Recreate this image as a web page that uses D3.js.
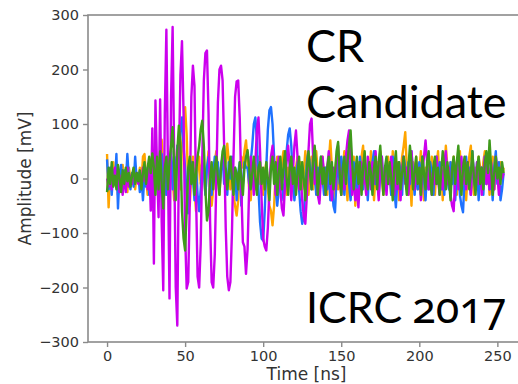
<!DOCTYPE html>
<html><head><meta charset="utf-8">
<script src="https://cdn.jsdelivr.net/npm/d3@7"></script>
<style>
html,body{margin:0;padding:0;background:#fff;}
svg{display:block;}
</style></head>
<body>
<script>
// Time axis: samples every 1 ns starting at 0
const t0 = 0, dt = 1;
const xTicks = [0, 50, 100, 150, 200, 250];
const yTicks = [-300, -200, -100, 0, 100, 200, 300];

const orange = [
45,-53,10,-20,30,-10,20,-30,15,-5,
25,-15,10,-25,20,0,-10,15,-20,10,
-5,20,-10,40,45,0,-30,20,-10,30,
-20,40,10,-30,50,71,20,-30,30,10,
-20,40,0,-40,20,60,30,-20,60,100,
131,80,-20,-50,10,40,-20,-60,20,40,
-10,30,10,-30,20,50,0,-50,-20,30,
50,10,-30,20,40,10,30,64,30,-20,
0,-30,-50,-68,-40,10,40,20,50,70,
30,-20,-40,10,30,-20,20,40,-10,20,
-30,10,30,-20,-50,-60,-86,-50,10,40,
20,-20,30,50,10,-30,20,-10,40,0,
-30,20,40,-10,30,-20,10,50,20,-30,
10,40,-20,30,50,10,-40,20,40,-10,
20,-30,30,70,20,-40,10,40,-20,10,
-30,20,50,0,-40,30,10,-20,40,-50,
10,30,-20,40,60,0,-30,20,-10,50,
20,-40,10,30,-20,50,0,-30,20,-10,
40,10,-30,50,20,-20,30,-40,10,40,
60,85,20,-30,10,-50,30,0,40,-20,
10,50,-10,-40,20,0,30,-20,40,10,
-30,20,50,-10,30,-40,10,60,20,-20,
30,-10,40,0,-30,20,50,-20,10,30,
-40,10,40,60,0,-30,20,-10,40,20,
-20,30,50,-10,20,-30,10,40,-20,30,
10,-20,30,0,20];

const blue = [
35,-20,20,-30,15,-10,45,-55,10,25,
-20,15,-10,45,0,-20,10,-15,40,-5,
10,-25,5,-40,10,-15,20,-30,30,0,
40,-20,30,-40,20,45,-10,30,-30,20,
0,50,-20,40,-10,60,20,90,112,60,
20,-30,-64,-20,30,0,-40,20,-30,-60,
-20,30,10,-30,20,40,0,-30,10,40,
-10,30,-20,20,40,-10,10,-30,30,0,
40,-20,20,-40,10,30,-50,-10,30,20,
20,-10,30,60,100,112,70,-20,-80,-110,
-114,-60,20,90,125,131,100,40,-20,-50,
-20,30,-10,-40,10,50,80,92,60,0,
-40,-10,30,-20,-60,-83,-70,-20,30,50,
20,-20,40,10,-30,20,-10,40,0,-30,
20,-20,30,-40,-10,-50,-62,0,30,-10,
40,10,-30,20,50,-10,-40,10,30,-20,
20,-30,40,0,-20,30,10,-40,20,-10,
30,50,-10,20,-30,10,40,-20,0,30,
-10,20,-30,40,-20,-53,0,30,10,-30,
40,20,-20,30,-10,50,10,-30,20,-20,
30,-10,40,0,-40,20,-20,30,10,-30,
20,40,-10,30,-20,10,-30,40,0,-20,
30,-10,20,-40,10,30,-30,-50,-62,0,
40,-10,20,-30,50,0,-20,30,-40,10,
20,-30,40,-10,30,-20,10,-40,20,50,
-10,30,-40,-20,10];

const magenta = [
0,-15,10,-20,5,20,-10,15,-25,5,
-30,10,-25,20,-15,5,-10,15,-5,10,
-10,5,-15,20,-5,10,-20,30,-59,92,
-156,143,20,-71,145,-80,-205,120,273,20,
-220,150,278,40,-200,-270,30,190,252,120,
-100,-202,-190,-40,150,207,170,-30,-180,-200,
-120,40,180,230,235,120,-80,-190,-200,-140,
0,140,200,207,180,60,-90,-180,-205,-190,
-100,40,150,178,180,110,-20,-117,-125,-175,
-130,-20,40,20,-30,30,90,112,50,-40,
-110,-125,-132,-90,-20,40,60,20,-30,10,
40,-20,-55,-68,-10,30,60,20,-40,10,
60,88,40,-20,10,-40,-70,-83,-30,50,
100,110,40,-10,20,-30,-46,0,40,10,
-30,20,50,0,-40,20,-20,30,60,10,
-30,20,-20,40,70,88,20,-30,10,-40,
-20,-53,0,30,-10,20,-30,40,10,-20,
30,-10,50,0,-40,20,40,-20,10,-30,
20,-10,40,10,-30,30,-20,10,-40,20,
40,-10,20,-30,10,50,0,-20,30,-10,
20,-40,10,40,70,30,-20,10,-30,20,
-10,40,0,-30,20,-20,30,50,-10,20,
-30,-50,-60,0,30,-20,20,40,-10,10,
-20,30,0,-30,40,10,-20,30,-10,20,
-30,10,40,-10,20,-20,30,0,-20,40,
10,-30,20,0,10];

const green = [
-25,20,-10,30,-15,5,-20,25,0,-25,
15,-10,20,-5,10,-15,5,20,-10,10,
-5,15,-20,10,30,-10,20,40,10,46,
20,-30,40,-20,50,-10,-55,20,40,-20,
30,60,94,20,-40,50,97,60,-60,-110,
-132,-60,20,40,-10,30,-30,10,40,60,
90,106,60,-20,-77,-60,0,30,-20,20,
40,0,-30,20,50,60,20,-20,10,40,
0,-30,20,10,-20,30,0,-30,20,40,
52,20,-20,10,40,0,-30,20,30,-10,
20,-20,30,0,-40,20,40,-10,30,-30,
10,40,-20,20,50,0,-30,20,40,-10,
20,-30,10,40,-20,30,0,-40,20,50,
10,-20,30,60,20,-30,10,40,-10,20,
-30,20,40,-10,30,-20,10,50,67,10,
-30,20,40,-10,30,60,88,30,-20,10,
40,-10,30,-30,20,50,0,-20,30,10,
-30,20,40,-20,30,60,10,-30,20,40,
-10,30,0,-40,20,50,-10,30,-20,10,
40,0,-30,20,60,30,-20,10,40,-10,
20,-30,40,10,-20,30,50,0,-30,20,
40,-10,20,-30,10,50,20,-20,30,0,
-40,20,40,-10,30,60,10,-30,20,40,
-10,30,-20,10,50,0,-30,20,40,-10,
20,-20,30,50,10,70,20,-30,10,40,
0,20,-10,30,10];

const seriesNames = ["orange", "blue", "magenta", "green"];
const seriesColors = ["#ffa500", "#1f72ff", "#cc00ee", "#3f9a1c"];
const seriesData = [orange, blue, magenta, green];

const labelLines1 = ["CR", "Candidate"];
const label2a = "ICRC";
const label2b = "2017";

const W = 518, H = 384;
const M = {left: 88, right: -7, top: 15, bottom: 42};

const svg = d3.select("body").append("svg").attr("width", W).attr("height", H);

const x = d3.scaleLinear().domain([-12.2, 267.7]).range([M.left, W - M.right]);
const y = d3.scaleLinear().domain([-300, 300]).range([H - M.bottom, M.top]);

svg.append("defs").append("clipPath").attr("id", "clip")
  .append("rect").attr("x", M.left).attr("y", M.top)
  .attr("width", W - M.right - M.left).attr("height", H - M.bottom - M.top);

const line = d3.line().x((d, i) => x(t0 + i * dt)).y(d => y(d));

const g = svg.append("g").attr("clip-path", "url(#clip)");
seriesData.forEach((s, k) => {
  g.append("path").datum(s)
    .attr("fill", "none")
    .attr("stroke", seriesColors[k])
    .attr("stroke-width", 2.4)
    .attr("stroke-linejoin", "round")
    .attr("d", line);
});

// frame
const spine = "#8a8a8a";
svg.append("rect").attr("x", M.left).attr("y", M.top)
  .attr("width", W - M.right - M.left).attr("height", H - M.bottom - M.top)
  .attr("fill", "none").attr("stroke", spine).attr("stroke-width", 1.6);

const xAxis = svg.append("g").attr("transform", `translate(0,${H - M.bottom})`)
  .call(d3.axisBottom(x).tickValues(xTicks).tickSize(5).tickPadding(4).tickFormat(d3.format("d")));
const yAxis = svg.append("g").attr("transform", `translate(${M.left},0)`)
  .call(d3.axisLeft(y).tickValues(yTicks).tickSize(5).tickPadding(4)
    .tickFormat(d => d < 0 ? "\u2212" + Math.abs(d) : String(d)));
[xAxis, yAxis].forEach(a => {
  a.select(".domain").remove();
  a.selectAll(".tick line").attr("stroke", spine).attr("stroke-width", 1.4);
  a.selectAll(".tick text").attr("fill", "#333")
    .style("font-family", "DejaVu Sans").style("font-size", "14.5px");
});

svg.append("text").attr("x", (M.left + W - M.right) / 2).attr("y", 380)
  .attr("text-anchor", "middle").attr("fill", "#333")
  .style("font-family", "DejaVu Sans").style("font-size", "17px").text("Time [ns]");
svg.append("text").attr("transform", `translate(31,${(M.top + H - M.bottom) / 2}) rotate(-90)`)
  .attr("text-anchor", "middle").attr("fill", "#333")
  .style("font-family", "DejaVu Sans").style("font-size", "17px").text("Amplitude [mV]");

labelLines1.forEach((s, i) => {
  svg.append("text").attr("x", 306).attr("y", i === 0 ? 62 : 118)
    .attr("fill", "#000").style("font-family", "Lato").style("font-size", "45px").text(s);
});
const t2 = svg.append("text").attr("x", 306).attr("y", 323).attr("fill", "#000")
  .style("font-family", "Lato").style("font-size", "43px");
t2.append("tspan").text(label2a);
t2.append("tspan").attr("dx", 10)
  .style("font-family", "'Noto Sans', Lato").style("font-size", "43px")
  .style("font-feature-settings", "'onum' 1")
  .style("font-variant-numeric", "oldstyle-nums").text(label2b);
</script>
</body></html>
